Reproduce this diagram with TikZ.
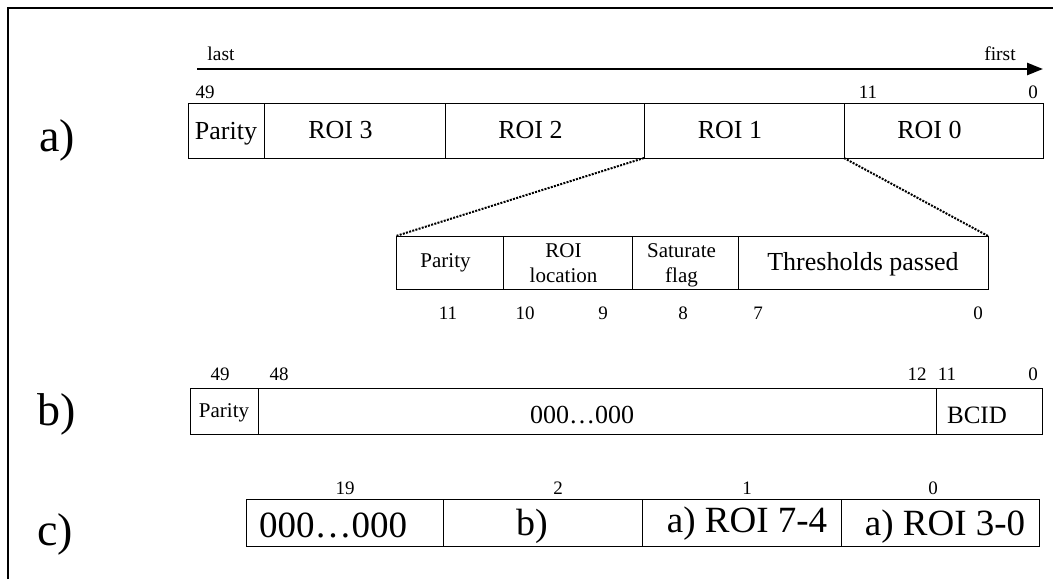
\documentclass[tikz,border=0pt]{standalone}
\usepackage{fontspec}
\setmainfont{Liberation Serif}
\usetikzlibrary{arrows.meta}
\newcommand\fsz[2]{\fontsize{#1}{#2}\selectfont}
\tikzset{
  box/.style={draw, line width=1pt, inner sep=0pt, outer sep=0pt},
  txt/.style={anchor=base, inner sep=0pt, outer sep=0pt},
  num/.style={txt, font=\fsz{19}{22}},
  rowlbl/.style={txt, font=\fsz{46}{50}},
  zoomline/.style={line width=2pt, dash pattern=on 2pt off 1.3pt},
}
\begin{document}
\begin{tikzpicture}[x=1pt, y=-1pt]
\useasboundingbox (0,0) rectangle (1053,579);

% partial frame
\coordinate (fBL) at (8,579);
\coordinate (fTL) at (8,8);
\coordinate (fTR) at (1053,8);
\draw[line width=1.5pt] (fBL) -- (fTL) -- (fTR);

% row labels
\node[rowlbl] (la) at (57,151) {a)};
\node[rowlbl] (lb) at (57,425) {b)};
\node[rowlbl] (lc) at (55,545) {c)};

% ---- a) transmission order arrow
\coordinate (arrS) at (197,69);
\coordinate (arrE) at (1043,69);
\draw[line width=2.5pt, -{Triangle[length=16pt,width=12pt]}] (arrS) -- (arrE);
\node[txt, font=\fsz{19.5}{22}] (tLast) at (221,60) {last};
\node[txt, font=\fsz{19.5}{22}] (tFirst) at (1000,60) {first};

% ---- a) word
\node[box, minimum width=76pt,  minimum height=55pt] (aPar) at (226,130.5) {};
\node[box, minimum width=181pt, minimum height=55pt] (aR3)  at (354.5,130.5) {};
\node[box, minimum width=199pt, minimum height=55pt] (aR2)  at (544.5,130.5) {};
\node[box, minimum width=200pt, minimum height=55pt] (aR1)  at (744,130.5) {};
\node[box, minimum width=199pt, minimum height=55pt] (aR0)  at (943.5,130.5) {};
\node[txt, font=\fsz{26}{30}] (aParT) at (226,139) {Parity};
\node[txt, font=\fsz{26}{30}] (aR3T) at (340.5,138) {ROI 3};
\node[txt, font=\fsz{26}{30}] (aR2T) at (530.5,138) {ROI 2};
\node[txt, font=\fsz{26}{30}] (aR1T) at (730,138) {ROI 1};
\node[txt, font=\fsz{26}{30}] (aR0T) at (929.5,138) {ROI 0};
\node[num] (aN49) at (205,98) {49};
\node[num] (aN11) at (868,98) {11};
\node[num] (aN0)  at (1033,98) {0};

% ---- a) ROI detail
\node[box, minimum width=107pt, minimum height=53pt] (iPar) at (449.5,262.5) {};
\node[box, minimum width=129pt, minimum height=53pt] (iLoc) at (567.5,262.5) {};
\node[box, minimum width=106pt, minimum height=53pt] (iSat) at (685,262.5) {};
\node[box, minimum width=250pt, minimum height=53pt] (iThr) at (863,262.5) {};
\node[txt, font=\fsz{21}{25}] (iParT) at (445.5,267) {Parity};
\node[txt, font=\fsz{21}{25}, align=center] (iLocT) at (563.5,282) {ROI\\location};
\node[txt, font=\fsz{21}{25}, align=center] (iSatT) at (681.5,282) {Saturate\\flag};
\node[txt, font=\fsz{26}{30}] (iThrT) at (863,270) {Thresholds passed};
\node[num] (iN11) at (448,319) {11};
\node[num] (iN10) at (525,319) {10};
\node[num] (iN9)  at (603,319) {9};
\node[num] (iN8)  at (683,319) {8};
\node[num] (iN7)  at (758,319) {7};
\node[num] (iN0)  at (978,319) {0};

\draw[zoomline] (aR1.south west) -- (iPar.north west);
\draw[zoomline] (aR0.south west) -- (iThr.north east);

% ---- b) word
\node[box, minimum width=68pt,  minimum height=46pt] (bPar)  at (224,411) {};
\node[box, minimum width=678pt, minimum height=46pt] (bZero) at (597,411) {};
\node[box, minimum width=106pt, minimum height=46pt] (bBCID) at (989,411) {};
\node[txt, font=\fsz{21}{25}] (bParT)  at (224,417) {Parity};
\node[txt, font=\fsz{26}{30}] (bZeroT) at (582,423) {000…000};
\node[txt, font=\fsz{25}{30}] (bBCIDT) at (977,423) {BCID};
\node[num] (bN49) at (220,380) {49};
\node[num] (bN48) at (279,380) {48};
\node[num] (bN12) at (917,380) {12};
\node[num] (bN11) at (947,380) {11};
\node[num] (bN0)  at (1033,380) {0};

% ---- c) word
\node[box, minimum width=197pt, minimum height=47pt] (cZero) at (344.5,522.5) {};
\node[box, minimum width=199pt, minimum height=47pt] (cB)    at (542.5,522.5) {};
\node[box, minimum width=199pt, minimum height=47pt] (cR74)  at (741.5,522.5) {};
\node[box, minimum width=198pt, minimum height=47pt] (cR30)  at (940,522.5) {};
\node[txt, font=\fsz{37}{44}] (cZeroT) at (333,537) {000…000};
\node[txt, font=\fsz{38}{44}] (cBT)    at (532,535) {b)};
\node[txt, font=\fsz{37}{44}] (cR74T)  at (747,532) {a) ROI 7-4};
\node[txt, font=\fsz{37}{44}] (cR30T)  at (945,535) {a) ROI 3-0};
\node[num] (cN19) at (345,494) {19};
\node[num] (cN2)  at (558,494) {2};
\node[num] (cN1)  at (747,494) {1};
\node[num] (cN0)  at (933,494) {0};
\end{tikzpicture}
\end{document}
